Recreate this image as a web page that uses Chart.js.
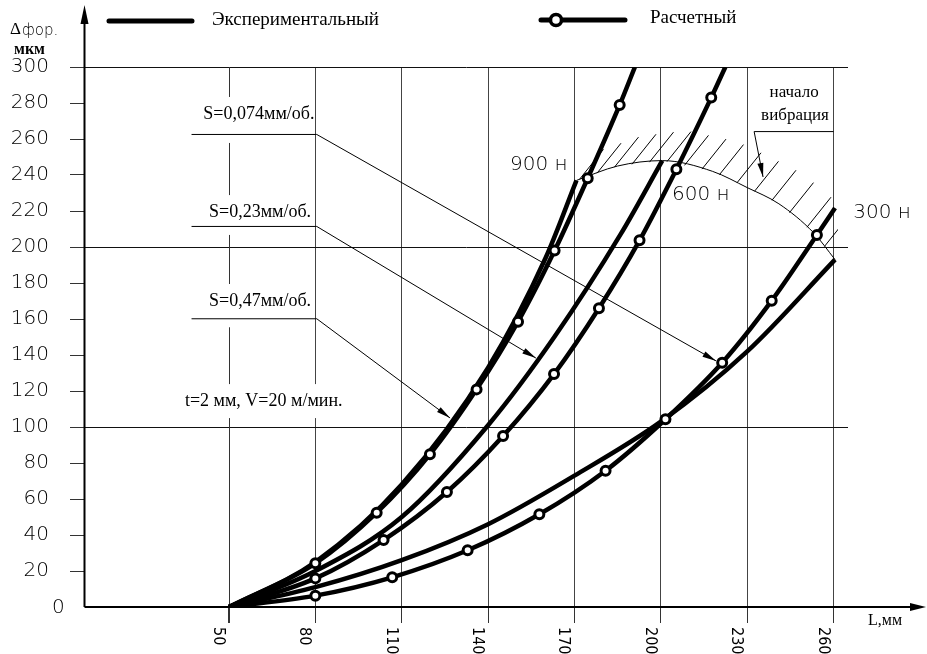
<!DOCTYPE html>
<html>
<head>
<meta charset="utf-8">
<script src="https://cdn.jsdelivr.net/npm/chart.js@4.4.1/dist/chart.umd.min.js"></script>
<style>
  html, body { margin: 0; padding: 0; background: #fff; }
  #wrap { width: 927px; height: 654px; position: relative; }
</style>
</head>
<body>
<div id="wrap"><canvas id="deformChart"></canvas></div>
<script>
// values (L in mm, deformation in µm)
const xTicks = [50, 80, 110, 140, 170, 200, 230, 260];
const yTicks = [0, 20, 40, 60, 80, 100, 120, 140, 160, 180, 200, 220, 240, 260, 280, 300];

// S = 0,074 mm/rev
const expS074X = [50, 80, 110, 140, 170, 200, 230, 260.5];
const expS074Y = [0, 11, 26, 46, 73, 103, 142, 193];
const calcS074X = [50, 80, 106.7, 132.9, 157.8, 180.8, 201.6, 221.3, 238.5, 254.2, 260.5];
const calcS074Y = [0, 6.3, 16.5, 31.5, 51.5, 75.7, 104.3, 135.7, 170.2, 206.7, 221.7];

// S = 0,23 mm/rev
const expS023X = [50, 80, 110, 140, 163, 186, 200.5];
const expS023Y = [0, 20, 50, 101, 150, 207, 248];
const calcS023X = [50, 80, 103.7, 125.7, 145.2, 162.9, 178.5, 192.6, 205.4, 217.5, 222.4];
const calcS023Y = [0, 15.9, 37.2, 63.9, 95, 129.4, 166, 203.7, 243.2, 283, 300];

// S = 0,47 mm/rev
const expS047X = [50, 80, 110, 140, 160, 170.7];
const expS047Y = [0, 25, 68, 133, 194, 237];
const calcS047X = [50, 80, 101.3, 119.8, 136, 150.4, 163.1, 174.6, 185.7, 191];
const calcS047Y = [0, 24.3, 52.4, 84.8, 120.9, 158.5, 198, 238.2, 278.9, 300];

// onset of vibration boundary
const vibX = [170.7, 185, 200.5, 218, 230, 241, 253, 260.5];
const vibY = [237, 245, 248, 242, 233, 224, 208, 193];

const pts = (xs, ys) => xs.map((x, i) => ({ x: x, y: ys[i] }));

const SERIF = '"Liberation Serif", "Times New Roman", serif';
const CAD = '"DejaVu Sans", sans-serif';

function calcSet(xs, ys) {
    return {
        data: pts(xs, ys),
        borderColor: '#000',
        borderWidth: 4.5,
        backgroundColor: '#fff',
        pointBackgroundColor: '#fff',
        pointBorderColor: '#000',
        pointBorderWidth: 3,
        pointRadius: ctx => (ctx.dataIndex === 0 || ctx.dataIndex === xs.length - 1) ? 0 : 4.5,
        cubicInterpolationMode: 'monotone',
        fill: false
    };
}
function expSet(xs, ys) {
    return {
        data: pts(xs, ys),
        borderColor: '#000',
        borderWidth: 4.5,
        pointRadius: 0,
        cubicInterpolationMode: 'monotone',
        fill: false
    };
}

// annotation anchors, in data units
const feedLabels = [
    { text: 'S=0,074мм/об.', tx: 60.4, ty: 273.9, ly: 262.8, ax: 219.2, ay: 136.7 },
    { text: 'S=0,23мм/об.', tx: 60.8, ty: 219.4, ly: 211.7, ax: 156.6, ay: 138.3 },
    { text: 'S=0,47мм/об.', tx: 60.8, ty: 170, ly: 160.4, ax: 126.8, ay: 105 }
];
const condText = 't=2 мм, V=20 м/мин.';
const condX = 34.7, condY = 114.4;
const forceLabels = [
    { text: '900 н', x: 147.6, y: 245.6 },
    { text: '600 н', x: 203.9, y: 228.9 },
    { text: '300 н', x: 266.8, y: 218.9 }
];

function arrow(ctx, x1, y1, x2, y2, len, half) {
    const a = Math.atan2(y2 - y1, x2 - x1);
    ctx.beginPath();
    ctx.moveTo(x1, y1);
    ctx.lineTo(x2, y2);
    ctx.stroke();
    ctx.beginPath();
    ctx.moveTo(x2, y2);
    ctx.lineTo(x2 - len * Math.cos(a) + half * Math.sin(a), y2 - len * Math.sin(a) - half * Math.cos(a));
    ctx.lineTo(x2 - len * Math.cos(a) - half * Math.sin(a), y2 - len * Math.sin(a) + half * Math.cos(a));
    ctx.closePath();
    ctx.fill();
}

const decor = {
    id: 'decor',
    beforeDatasetsDraw(chart) {
        const { ctx, chartArea: a, scales: { x, y } } = chart;
        const X = v => x.getPixelForValue(v), Y = v => y.getPixelForValue(v);
        ctx.save();

        // centre line at L=50, broken where the feed labels sit
        ctx.strokeStyle = '#333';
        ctx.lineWidth = 1;
        const gaps = feedLabels.map(l => [Y(l.ty) - 17, Y(l.ly) + 9]);
        gaps.push([Y(condY) - 17, Y(condY) + 17]);
        let cur = a.top;
        const xc = Math.round(X(50)) + 0.5;
        ctx.beginPath();
        gaps.forEach(g => { ctx.moveTo(xc, cur); ctx.lineTo(xc, g[0]); cur = g[1]; });
        ctx.moveTo(xc, cur);
        ctx.lineTo(xc, a.bottom + 16);
        ctx.stroke();
        // gap in the L=80 line behind the cutting conditions
        ctx.fillStyle = '#fff';
        ctx.fillRect(X(80) - 3, Y(condY) - 17, 6, 34);

        // hatching above the vibration boundary
        const vm = chart.getDatasetMeta(6).data;
        const x0 = vm[0].x, x1 = vm[vm.length - 1].x;
        ctx.save();
        ctx.beginPath();
        ctx.rect(a.left, 0, x1 + 3 - a.left, a.bottom);
        ctx.clip();
        ctx.strokeStyle = '#000';
        ctx.lineWidth = 1;
        ctx.beginPath();
        for (let px = x0 + 3; px <= x1 + 2; px += 17.5) {
            let py = vm[vm.length - 1].y;
            for (let i = 0; i < vm.length - 1; i++) {
                if (px >= vm[i].x && px <= vm[i + 1].x) {
                    const t = (px - vm[i].x) / (vm[i + 1].x - vm[i].x);
                    py = vm[i].y + t * (vm[i + 1].y - vm[i].y);
                    break;
                }
            }
            ctx.moveTo(px, py);
            ctx.lineTo(px + 24, py - 30);
        }
        ctx.stroke();
        ctx.restore();

        // axes with arrows
        ctx.strokeStyle = '#000';
        ctx.fillStyle = '#000';
        ctx.lineWidth = 2;
        const ox = X(0) - 0.5, oy = a.bottom;
        ctx.beginPath();
        ctx.moveTo(ox, oy);
        ctx.lineTo(ox, 20);
        ctx.moveTo(ox, oy);
        ctx.lineTo(914, oy);
        ctx.stroke();
        ctx.beginPath();
        ctx.moveTo(ox, 5); ctx.lineTo(ox - 4, 24); ctx.lineTo(ox + 4, 24); ctx.closePath();
        ctx.fill();
        ctx.beginPath();
        ctx.moveTo(926, oy); ctx.lineTo(910, oy - 4); ctx.lineTo(910, oy + 4); ctx.closePath();
        ctx.fill();
        ctx.restore();
    },
    afterDatasetsDraw(chart) {
        const { ctx, chartArea: a, scales: { x, y } } = chart;
        const X = v => x.getPixelForValue(v), Y = v => y.getPixelForValue(v);
        ctx.save();
        ctx.fillStyle = '#000';
        ctx.strokeStyle = '#000';

        // feed labels with leaders
        ctx.font = '18px ' + SERIF;
        ctx.textAlign = 'center';
        ctx.textBaseline = 'middle';
        feedLabels.forEach(l => {
            ctx.fillText(l.text, X(l.tx), Y(l.ty));
            ctx.lineWidth = 1;
            ctx.beginPath();
            ctx.moveTo(X(37), Y(l.ly) + 0.5);
            ctx.lineTo(X(80.5), Y(l.ly) + 0.5);
            ctx.stroke();
            arrow(ctx, X(80.5), Y(l.ly) + 0.5, X(l.ax), Y(l.ay), 14, 3);
        });
        ctx.textAlign = 'left';
        ctx.fillText(condText, X(condX), Y(condY));

        // vibration note
        ctx.textAlign = 'center';
        ctx.font = '17px ' + SERIF;
        ctx.fillText('начало', X(246.3), Y(285.6));
        ctx.fillText('вибрация', X(246.6), Y(273.3));
        ctx.lineWidth = 1;
        ctx.beginPath();
        ctx.moveTo(X(232.4), Y(264.4) + 0.5);
        ctx.lineTo(X(260), Y(264.4) + 0.5);
        ctx.stroke();
        arrow(ctx, X(232.4), Y(264.4) + 0.5, X(235.5), Y(238.9), 14, 3);

        // force labels
        ctx.textAlign = 'left';
        ctx.font = '200 20px ' + CAD;
        forceLabels.forEach(f => ctx.fillText(f.text, X(f.x), Y(f.y)));

        // zero and rotated L ticks
        ctx.fillText('0', 52, Y(0) + 1);
        ctx.font = '200 16px "DejaVu Sans Condensed", ' + CAD;
        ctx.textBaseline = 'alphabetic';
        xTicks.forEach(v => {
            ctx.save();
            ctx.translate(X(v) - 15, a.bottom + 20);
            ctx.rotate(Math.PI / 2);
            ctx.fillText(String(v), 0, 0);
            ctx.restore();
        });

        // axis titles
        ctx.textBaseline = 'middle';
        ctx.font = '16px ' + SERIF;
        ctx.fillText('L,мм', 868, 621);
        ctx.font = '17px ' + SERIF;
        ctx.fillText('Δ', 10, 30);
        ctx.font = '200 15px ' + CAD;
        ctx.fillText('фор.', 22, 31);
        ctx.font = 'bold 16px ' + SERIF;
        ctx.fillText('мкм', 14, 50);

        // legend
        ctx.lineWidth = 5;
        ctx.lineCap = 'round';
        ctx.beginPath();
        ctx.moveTo(109, 21); ctx.lineTo(192, 21);
        ctx.moveTo(541, 20); ctx.lineTo(625, 20);
        ctx.stroke();
        ctx.lineWidth = 3.5;
        ctx.fillStyle = '#fff';
        ctx.beginPath();
        ctx.arc(556, 20, 5.5, 0, Math.PI * 2);
        ctx.fill();
        ctx.stroke();
        ctx.fillStyle = '#000';
        ctx.font = '19px ' + SERIF;
        ctx.fillText('Экспериментальный', 212, 20);
        ctx.fillText('Расчетный', 650, 18);
        ctx.restore();
    }
};

const ctx1 = document.getElementById('deformChart').getContext('2d');
const deformChart = new Chart(ctx1, {
    type: 'line',
    data: {
        datasets: [
            calcSet(calcS047X, calcS047Y),
            calcSet(calcS023X, calcS023Y),
            calcSet(calcS074X, calcS074Y),
            expSet(expS047X, expS047Y),
            expSet(expS023X, expS023Y),
            expSet(expS074X, expS074Y),
            {
                data: pts(vibX, vibY),
                borderColor: '#000',
                borderWidth: 1,
                pointRadius: 0,
                cubicInterpolationMode: 'monotone',
                fill: false
            }
        ]
    },
    options: {
        responsive: true,
        maintainAspectRatio: false,
        animation: false,
        layout: { padding: { top: 67, right: 79, left: 0, bottom: 0 } },
        plugins: {
            legend: { display: false },
            tooltip: { enabled: false }
        },
        scales: {
            x: {
                type: 'linear',
                min: 0,
                max: 265,
                afterBuildTicks: s => { s.ticks = xTicks.map(v => ({ value: v })); },
                afterFit: s => { s.height = 47; },
                ticks: { display: false },
                border: { display: false },
                grid: {
                    color: c => (c.tick && c.tick.value === 50) ? 'rgba(0,0,0,0)' : '#444',
                    tickColor: '#333',
                    tickLength: 16,
                    lineWidth: 1
                }
            },
            y: {
                type: 'linear',
                min: 0,
                max: 300,
                afterBuildTicks: s => { s.ticks = yTicks.map(v => ({ value: v })); },
                afterFit: s => { s.width = 85; },
                border: { display: false },
                ticks: {
                    padding: 21,
                    color: '#000',
                    font: { family: CAD, size: 20, weight: 200 },
                    callback: v => v === 0 ? '' : v
                },
                grid: {
                    color: c => (c.tick && c.tick.value > 0 && c.tick.value % 100 === 0) ? '#111' : 'rgba(0,0,0,0)',
                    tickColor: c => (c.tick && c.tick.value === 0) ? 'rgba(0,0,0,0)' : '#333',
                    tickLength: 15,
                    lineWidth: 1
                }
            }
        }
    },
    plugins: [decor]
});
</script>
</body>
</html>
